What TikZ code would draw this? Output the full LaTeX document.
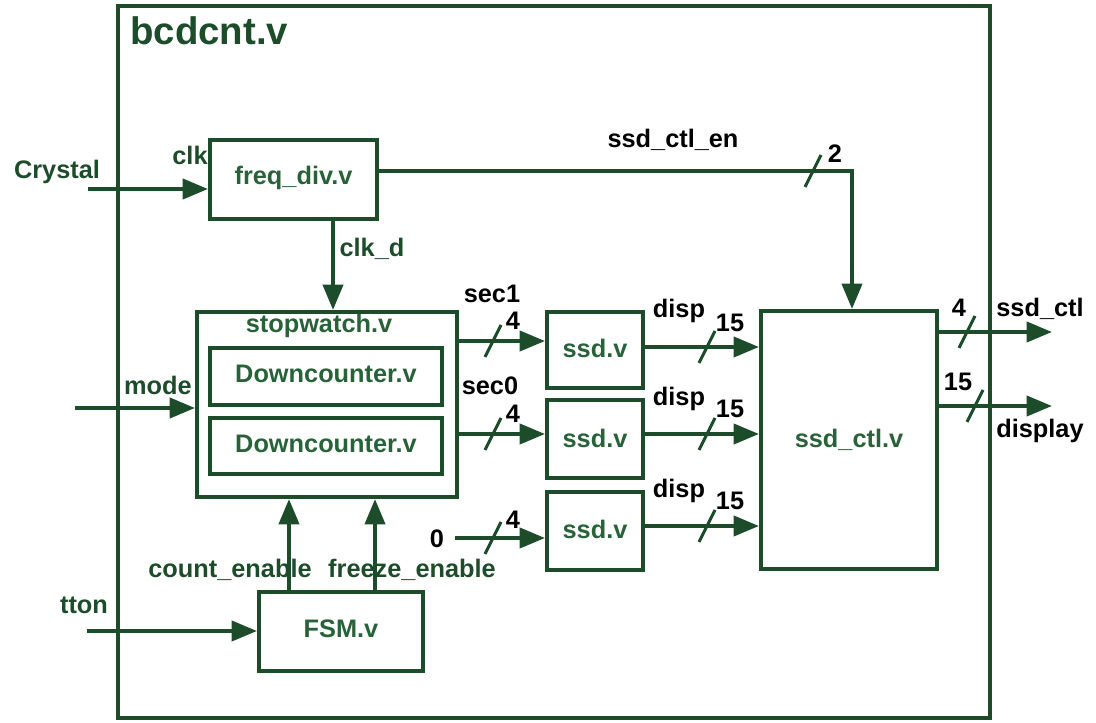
\documentclass[tikz,border=0pt]{standalone}
\usepackage{fontspec}
\setmainfont{Liberation Sans}
\usetikzlibrary{arrows.meta,fit,calc}
\definecolor{lc}{RGB}{28,76,42}
\definecolor{bt}{RGB}{40,98,56}
\newcommand\busmark[2]{\draw[busline] ({#1-8},{#2+16}) -- ({#1+8},{#2-16});}
\begin{document}
\begin{tikzpicture}[x=0.75pt,y=-0.75pt,
  wire/.style={draw=lc,line width=3pt},
  arr/.style={wire,-{Triangle[length=19pt,width=15pt]}},
  box/.style={draw=lc,line width=3pt,inner sep=0pt},
  lab/.style={font=\bfseries\fontsize{19}{22}\selectfont,text=black,inner sep=0pt,anchor=base},
  glab/.style={lab,text=lc},
  blab/.style={lab,text=bt},
  busline/.style={draw=lc,line width=2.3pt}]
\useasboundingbox (0,0) rectangle (1096,723);

% boxes
\node[box,fit={(118,6) (990,718)}] (outer) {};
\node[box,fit={(210,140) (377,219)}] (fd) {};
\node[box,fit={(197,312) (457,497)}] (sw) {};
\node[box,fit={(210,348) (442,405)}] (dc1) {};
\node[box,fit={(210,418) (442,474)}] (dc2) {};
\node[box,fit={(547,312) (643,388)}] (ssd1) {};
\node[box,fit={(547,400) (643,478)}] (ssd2) {};
\node[box,fit={(547,492) (643,570)}] (ssd3) {};
\node[box,fit={(761,311) (937,569)}] (ctl) {};
\node[box,fit={(259,592) (423,671)}] (fsm) {};

% block names
\node[blab] (tfd) at (fd.center |- 0,185) {freq\_div.v};
\node[blab] (tsw) at (319,333) {stopwatch.v};
\node[blab] (tdc1) at (dc1.center |- 0,383) {Downcounter.v};
\node[blab] (tdc2) at (dc2.center |- 0,453) {Downcounter.v};
\node[blab] (tssd1) at (ssd1.center |- 0,358) {ssd.v};
\node[blab] (tssd2) at (ssd2.center |- 0,447) {ssd.v};
\node[blab] (tssd3) at (ssd3.center |- 0,538) {ssd.v};
\node[blab] (tctl) at (ctl.center |- 0,447) {ssd\_ctl.v};
\node[blab] (tfsm) at (fsm.center |- 0,637) {FSM.v};

% coordinates
\coordinate (cryin) at (88,189);
\coordinate (modein) at (75,408);
\coordinate (ttonin) at (87,631);
\coordinate (clkd) at (333,219);
\coordinate (en) at (852,171);
\coordinate (s1) at (500,341);
\coordinate (s0) at (500,434);
\coordinate (z) at (455,538);
\coordinate (d1) at (700,347);
\coordinate (d2) at (700,434);
\coordinate (d3) at (700,526);
\coordinate (o1) at (1052,332);
\coordinate (o2) at (1052,406);
\coordinate (ce) at (289,592);
\coordinate (fe) at (375,592);

% connectors
\draw[arr] (cryin) -- (cryin -| fd.west);
\draw[arr] (modein) -- (modein -| sw.west);
\draw[arr] (ttonin) -- (ttonin -| fsm.west);
\draw[arr] (clkd |- fd.south) -- (clkd |- sw.north);
\draw[arr] (en -| fd.east) -- (en) -- (en |- ctl.north);
\draw[arr] (s1 -| sw.east) -- (s1 -| ssd1.west);
\draw[arr] (s0 -| sw.east) -- (s0 -| ssd2.west);
\draw[arr] (z) -- (z -| ssd3.west);
\draw[arr] (d1 -| ssd1.east) -- (d1 -| ctl.west);
\draw[arr] (d2 -| ssd2.east) -- (d2 -| ctl.west);
\draw[arr] (d3 -| ssd3.east) -- (d3 -| ctl.west);
\draw[arr] (o1 -| ctl.east) -- (o1);
\draw[arr] (o2 -| ctl.east) -- (o2);
\draw[arr] (ce |- fsm.north) -- (ce |- sw.south);
\draw[arr] (fe |- fsm.north) -- (fe |- sw.south);

% bus marks
\busmark{813}{171}
\busmark{493}{341}
\busmark{493}{434}
\busmark{493}{538}
\busmark{707}{347}
\busmark{707}{434}
\busmark{707}{526}
\busmark{967}{332}
\busmark{975}{406}

% labels
\node[glab,anchor=base west,font=\bfseries\fontsize{28.8}{32}\selectfont] (title) at (130,45) {bcdcnt.v};
\node[glab] (lcry) at (57,179) {Crystal};
\node[glab] (lclk) at (190,165) {clk};
\node[glab] (lclkd) at (372,257) {clk\_d};
\node[lab] (len) at (673,148) {ssd\_ctl\_en};
\node[lab] (len2) at (835,163) {2};
\node[glab] (lmode) at (158,395) {mode};
\node[lab] (ls1) at (492,303) {sec1};
\node[lab] (ls0) at (490,395) {sec0};
\node[lab] (lw1) at (513,330) {4};
\node[lab] (lw2) at (513,423) {4};
\node[lab] (lw3) at (513,528) {4};
\node[lab] (lz) at (437,547) {0};
\node[lab] (ld1) at (679,318) {disp};
\node[lab] (ld2) at (679,406) {disp};
\node[lab] (ld3) at (679,497) {disp};
\node[lab] (lf1) at (730,332) {15};
\node[lab] (lf2) at (730,417) {15};
\node[lab] (lf3) at (730,509) {15};
\node[lab] (lo1w) at (959,317) {4};
\node[lab] (lo1) at (1040,317) {ssd\_ctl};
\node[lab] (lo2w) at (958,391) {15};
\node[lab] (lo2) at (1040,438) {display};
\node[glab] (lce) at (230,577) {count\_enable};
\node[glab] (lfe) at (412,577) {freeze\_enable};
\node[glab] (ltton) at (84,613) {tton};
\end{tikzpicture}
\end{document}
